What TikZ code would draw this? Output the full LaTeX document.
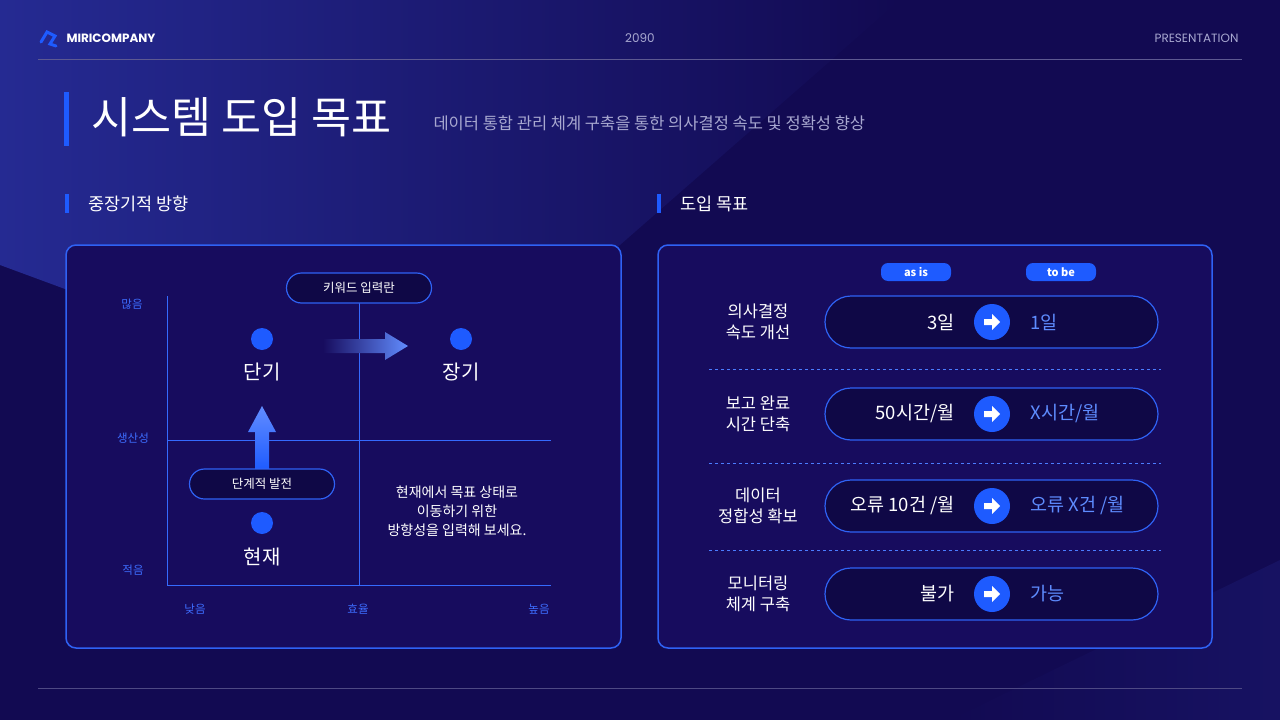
\documentclass[tikz,border=0pt]{standalone}
\usepackage{fontspec}
\setmainfont{Noto Sans CJK KR}
\newfontfamily\popf{Poppins}
\usetikzlibrary{shapes.geometric,arrows.meta,calc}
\definecolor{bg}{HTML}{120A52}
\definecolor{bgl}{HTML}{252A92}
\definecolor{panel}{HTML}{170C5E}
\definecolor{bord}{HTML}{2F62F5}
\definecolor{acc}{HTML}{1E5BFF}
\definecolor{lab}{HTML}{3D6DFF}
\definecolor{tobe}{HTML}{5E8CFF}
\definecolor{sub}{HTML}{A8A8D0}
\tikzset{
 pnl/.style={draw=bord,line width=1.5pt,rounded corners=10pt,fill=panel},
 pill/.style={draw=bord,line width=1.2pt,rounded corners=15pt,fill=bg!85!black,minimum height=30pt,minimum width=145pt,text=white,font=\fontsize{12.5}{14}\selectfont},
 rowpill/.style={draw=bord,line width=1.2pt,rounded corners=26pt,fill=bg!85!black,minimum height=52pt,minimum width=333pt},
 tag/.style={fill=acc,rounded corners=7pt,minimum width=70pt,minimum height=18pt,text=white,inner sep=0pt,font=\bfseries\fontsize{11}{12}\selectfont},
 dot/.style={circle,fill=acc,minimum size=22pt,inner sep=0pt},
 axl/.style={text=lab,font=\fontsize{11.5}{12}\selectfont},
 grid/.style={draw=acc!90!white,line width=0.8pt},
 big/.style={text=white,font=\fontsize{20}{22}\selectfont},
 rowlab/.style={text=white,align=center,font=\fontsize{16.5}{21}\selectfont},
 asis/.style={text=white,anchor=east,font=\fontsize{18.5}{20}\selectfont},
 tobet/.style={text=tobe,anchor=west,font=\fontsize{18.5}{20}\selectfont},
 arr/.style={circle,fill=acc,minimum size=36pt,inner sep=0pt},
}
\begin{document}
\begin{tikzpicture}[x=1pt,y=-1pt]
\useasboundingbox (0,0) rectangle (1280,720);
\fill[bg] (0,0) rectangle (1280,720);
\begin{scope}
\clip (0,0) -- (900,0) -- (420,420) -- (0,265) -- cycle;
\shade[left color=bgl,right color=bg] (0,0) rectangle (900,420);
\end{scope}
\shade[left color=bg,right color=bg!75!bgl] (950,720) -- (1280,560) -- (1280,720) -- cycle;
% header
\node[circle,inner sep=0pt,minimum size=16pt] (logo) at (48,38) {};
\draw[acc,line width=3pt,line cap=round] (41,42) -- (47,32) -- (55,36) -- (50,44) -- (56,46);
\node[anchor=west,text=white,font=\popf\bfseries\fontsize{12}{14}\selectfont] (brand) at (63,38) {MIRICOMPANY};
\node[text=sub,font=\popf\fontsize{12}{14}\selectfont] (yr) at (640,38) {2090};
\node[anchor=east,text=sub,font=\popf\fontsize{12}{14}\selectfont] (pres) at (1242,38) {PRESENTATION};
\draw[sub!50!bg,line width=0.8pt] (38,59) -- (1242,59);
\draw[sub!40!bg,line width=0.8pt] (38,688) -- (1242,688);
% title
\fill[acc] (64,92) rectangle (69,146);
\node[anchor=west,text=white,font=\fontsize{43.5}{46}\selectfont] (title) at (88,117) {시스템 도입 목표};
\node[anchor=west,text=sub,font=\fontsize{16.5}{18}\selectfont] (subt) at (430,123) {데이터 통합 관리 체계 구축을 통한 의사결정 속도 및 정확성 향상};
% section headings
\fill[acc] (65,194) rectangle (69,213);
\node[anchor=west,text=white,font=\fontsize{17.5}{20}\selectfont] (h1) at (85,204) {중장기적 방향};
\fill[acc] (657,194) rectangle (661,213);
\node[anchor=west,text=white,font=\fontsize{17.5}{20}\selectfont] (h2) at (677,204) {도입 목표};
% left panel
\draw[pnl] (66,245) rectangle (621,648);
\draw[grid] (167,296) -- (167,585) -- (551,585);
\draw[grid] (359,296) -- (359,585);
\draw[grid] (167,440) -- (551,440);
\node[axl] (y1) at (132,304) {많음};
\node[axl] (y2) at (133,438) {생산성};
\node[axl] (y3) at (133,570) {적음};
\node[axl] (x1) at (195,609) {낮음};
\node[axl] (x2) at (358,609) {효율};
\node[axl] (x3) at (539,609) {높음};
% arrows
\shade[left color=panel,right color=acc!70!white] (323,339) -- (385,339) -- (385,332) -- (408,346) -- (385,360) -- (385,353) -- (323,353) -- cycle;
\shade[top color=acc!70!white,bottom color=acc] (255,470) -- (255,432) -- (248,432) -- (262,406) -- (276,432) -- (269,432) -- (269,470) -- cycle;
\node[pill] (kw) at (359,288) {키워드 입력란};
\node[pill] (step1) at (262,484) {단계적 발전};
\node[dot] (d1) at (262,339) {};
\node[dot] (d2) at (461,339) {};
\node[dot] (d3) at (262,523) {};
\node[big] (t1) at (262,372) {단기};
\node[big] (t2) at (461,372) {장기};
\node[big] (t3) at (262,557) {현재};
\node[text=white,align=center,font=\fontsize{14}{19}\selectfont] (note) at (457,511) {현재에서 목표 상태로\\이동하기 위한\\방향성을 입력해 보세요.};
% right panel
\draw[pnl] (658,245) rectangle (1212,648);
\node[tag] (asis) at (916,272) {as is};
\node[tag] (tobe) at (1061,272) {to be};
\foreach \y/\l/\a/\b [count=\i] in {322/{의사결정\\속도 개선}/{3일}/{1일}, 414/{보고 완료\\시간 단축}/{50시간/월}/{X시간/월}, 506/{데이터\\정합성 확보}/{오류 10건 /월}/{오류 X건 /월}, 594/{모니터링\\체계 구축}/{불가}/{가능}}{
 \node[rowlab] (r\i) at (758,\y) {\l};
 \node[rowpill] (p\i) at (991.5,\y) {};
 \node[arr] (c\i) at (992,\y) {};
 \fill[white] ($(c\i)+(-8,-3)$) -- ($(c\i)+(0,-3)$) -- ($(c\i)+(0,-8)$) -- ($(c\i)+(8,0)$) -- ($(c\i)+(0,8)$) -- ($(c\i)+(0,3)$) -- ($(c\i)+(-8,3)$) -- cycle;
 \node[asis] (a\i) at (958,\y) {\a};
 \node[tobet] (b\i) at (1027,\y) {\b};
}
\foreach \y in {369,463,550}{\draw[acc!80!white,dashed,line width=0.8pt] (709,\y) -- (1161,\y);}
\end{tikzpicture}
\end{document}
